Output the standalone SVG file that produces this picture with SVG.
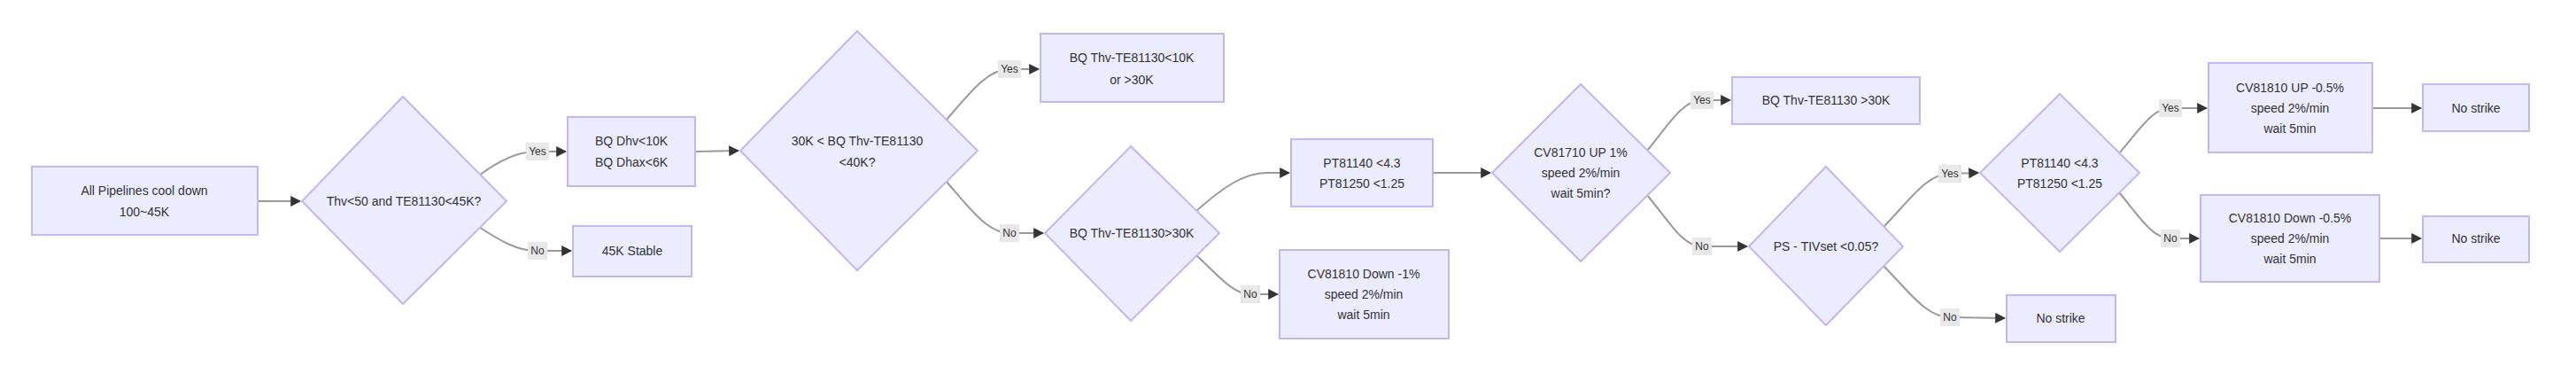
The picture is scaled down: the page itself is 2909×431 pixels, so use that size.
<svg xmlns="http://www.w3.org/2000/svg" width="2909" height="431" viewBox="0 0 2909 431">
<style>
.n{fill:#ECECFF;stroke:#c5b5f0;stroke-width:2}
.t{font-family:"Liberation Sans",Arial,sans-serif;font-size:14px;fill:#333;text-anchor:middle;dominant-baseline:central}
.e{fill:none;stroke:#999;stroke-width:2;marker-end:url(#a)}
.lb{fill:#e8e8e8}
.lt{font-family:"Liberation Sans",Arial,sans-serif;font-size:12px;fill:#333;text-anchor:middle;dominant-baseline:central}
</style>
<defs><marker id="a" viewBox="0 0 10 10" refX="9" refY="5" markerWidth="6" markerHeight="6" orient="auto"><path d="M0,0L10,5L0,10z" fill="#333"/></marker></defs>
<rect width="2909" height="431" fill="#fff"/>
<g id="connectors">
<path class="e" d="M291,227L339,227"/>
<path class="e" d="M541,198C565,180 585,171 605,171L639,171"/>
<path class="e" d="M541,256C565,272 585,283 605,283L645,283"/>
<path class="e" d="M785,171L834,170"/>
<path class="e" d="M1068,136C1095,105 1115,78 1140,78L1173,78"/>
<path class="e" d="M1068,204C1095,235 1115,263 1140,263L1178,263"/>
<path class="e" d="M1351,238C1380,212 1405,195 1430,195L1456,195"/>
<path class="e" d="M1351,288C1375,310 1392,332 1412,332L1443,332"/>
<path class="e" d="M1618,195L1683,195"/>
<path class="e" d="M1860,170C1885,140 1900,113 1922,113L1954,113"/>
<path class="e" d="M1860,220C1885,250 1900,278 1922,278L1973,278"/>
<path class="e" d="M2127,256C2155,228 2175,196 2202,196L2234,195"/>
<path class="e" d="M2127,300C2155,328 2175,358 2202,358L2264,359"/>
<path class="e" d="M2393,173C2415,148 2430,122 2451,122L2492,122"/>
<path class="e" d="M2393,217C2415,243 2430,269 2451,269L2483,269"/>
<path class="e" d="M2679,122L2734,122"/>
<path class="e" d="M2687,269L2734,269"/>
<g>
<rect class="lb" x="594" y="161" width="26" height="20"/><text class="lt" x="607" y="171">Yes</text>
<rect class="lb" x="596" y="273" width="22" height="20"/><text class="lt" x="607" y="283">No</text>
<rect class="lb" x="1127" y="68" width="26" height="20"/><text class="lt" x="1140" y="78">Yes</text>
<rect class="lb" x="1129" y="253" width="22" height="20"/><text class="lt" x="1140" y="263">No</text>
<rect class="lb" x="1401" y="322" width="22" height="20"/><text class="lt" x="1412" y="332">No</text>
<rect class="lb" x="1909" y="103" width="26" height="20"/><text class="lt" x="1922" y="113">Yes</text>
<rect class="lb" x="1911" y="268" width="22" height="20"/><text class="lt" x="1922" y="278">No</text>
<rect class="lb" x="2189" y="186" width="26" height="20"/><text class="lt" x="2202" y="196">Yes</text>
<rect class="lb" x="2191" y="348" width="22" height="20"/><text class="lt" x="2202" y="358">No</text>
<rect class="lb" x="2438" y="112" width="26" height="20"/><text class="lt" x="2451" y="122">Yes</text>
<rect class="lb" x="2440" y="259" width="22" height="20"/><text class="lt" x="2451" y="269">No</text>
</g>
</g>
<g id="start"><rect class="n" x="36" y="188" width="255" height="77"/><text class="t" x="163" y="215">All Pipelines cool down</text><text class="t" x="163" y="239">100~45K</text></g>
<g id="d1"><polygon class="n" points="455,109 572,227 455,343 341,227"/><text class="t" x="456" y="227">Thv&lt;50 and TE81130&lt;45K?</text></g>
<g id="b1"><rect class="n" x="641" y="132" width="144" height="78"/><text class="t" x="713" y="159">BQ Dhv&lt;10K</text><text class="t" x="713" y="183">BQ Dhax&lt;6K</text></g>
<g id="b2"><rect class="n" x="647" y="255" width="134" height="57"/><text class="t" x="714" y="283">45K Stable</text></g>
<g id="d2"><polygon class="n" points="968,35 1104,170 968,305 836,170"/><text class="t" x="968" y="159">30K &lt; BQ Thv-TE81130</text><text class="t" x="968" y="183">&lt;40K?</text></g>
<g id="b3"><rect class="n" x="1175" y="38" width="207" height="77"/><text class="t" x="1278" y="65">BQ Thv-TE81130&lt;10K</text><text class="t" x="1278" y="90">or &gt;30K</text></g>
<g id="d3"><polygon class="n" points="1277,165 1377,263 1277,362 1180,263"/><text class="t" x="1278" y="263">BQ Thv-TE81130&gt;30K</text></g>
<g id="b4"><rect class="n" x="1458" y="157" width="160" height="76"/><text class="t" x="1538" y="184">PT81140 &lt;4.3</text><text class="t" x="1538" y="207">PT81250 &lt;1.25</text></g>
<g id="b5"><rect class="n" x="1445" y="282" width="191" height="100"/><text class="t" x="1540" y="309">CV81810 Down -1%</text><text class="t" x="1540" y="332">speed 2%/min</text><text class="t" x="1540" y="355">wait 5min</text></g>
<g id="d4"><polygon class="n" points="1785,95 1886,195 1785,295 1685,195"/><text class="t" x="1785" y="172">CV81710 UP 1%</text><text class="t" x="1785" y="195">speed 2%/min</text><text class="t" x="1785" y="218">wait 5min?</text></g>
<g id="b6"><rect class="n" x="1956" y="87" width="212" height="53"/><text class="t" x="2062" y="113">BQ Thv-TE81130 &gt;30K</text></g>
<g id="d5"><polygon class="n" points="2062,188 2149,278 2062,367 1975,278"/><text class="t" x="2062" y="278">PS - TIVset &lt;0.05?</text></g>
<g id="b7"><rect class="n" x="2266" y="333" width="123" height="53"/><text class="t" x="2327" y="359">No strike</text></g>
<g id="d6"><polygon class="n" points="2326,106 2416,195 2326,284 2236,195"/><text class="t" x="2326" y="184">PT81140 &lt;4.3</text><text class="t" x="2326" y="207">PT81250 &lt;1.25</text></g>
<g id="b8"><rect class="n" x="2494" y="71" width="185" height="101"/><text class="t" x="2586" y="99">CV81810 UP -0.5%</text><text class="t" x="2586" y="122">speed 2%/min</text><text class="t" x="2586" y="145">wait 5min</text></g>
<g id="b9"><rect class="n" x="2485" y="220" width="202" height="98"/><text class="t" x="2586" y="246">CV81810 Down -0.5%</text><text class="t" x="2586" y="269">speed 2%/min</text><text class="t" x="2586" y="292">wait 5min</text></g>
<g id="b10"><rect class="n" x="2736" y="95" width="120" height="53"/><text class="t" x="2796" y="122">No strike</text></g>
<g id="b11"><rect class="n" x="2736" y="244" width="120" height="52"/><text class="t" x="2796" y="269">No strike</text></g>
</svg>
